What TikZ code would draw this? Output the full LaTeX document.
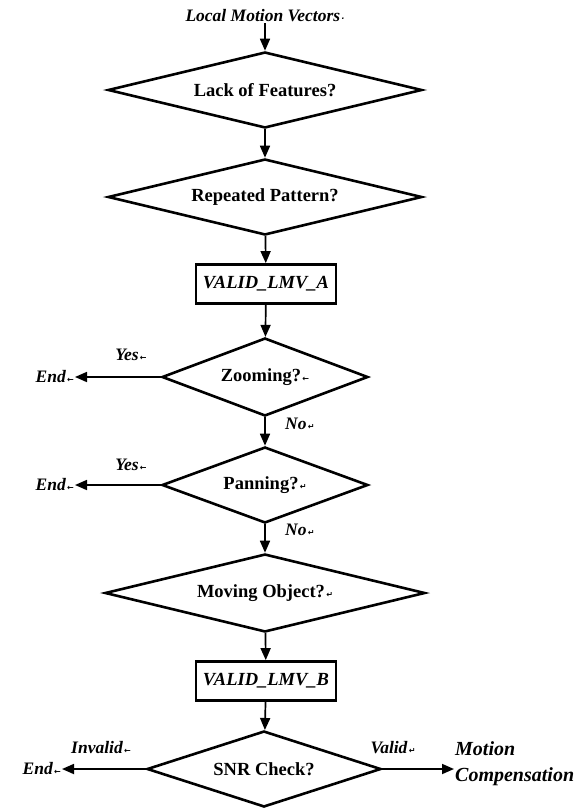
\documentclass[tikz,border=0pt]{standalone}
\usepackage{fontspec}
\setmainfont{Liberation Serif}
\newfontfamily\markfont{DejaVu Sans}
\usetikzlibrary{shapes.geometric,arrows.meta}
\newcommand{\mk}[1]{{\markfont\fontsize{8}{8}\selectfont\,#1}}
\begin{document}
\begin{tikzpicture}[x=1pt,y=1pt,
  dec/.style n args={3}{diamond, draw, line width=2.6pt, inner sep=0pt,
    shape aspect=#3, minimum width=#1pt, minimum height=#2pt,
    font=\bfseries\fontsize{18.5}{20}\selectfont},
  procbox/.style={rectangle, draw, line width=2.8pt, minimum width=140pt,
    minimum height=39pt, font=\bfseries\itshape\fontsize{18.5}{20}\selectfont},
  lbl/.style={inner sep=1pt, font=\bfseries\itshape\fontsize{17.5}{26}\selectfont},
  arr/.style={line width=1.7pt, -{Triangle[length=12pt,width=10pt]}}]
\useasboundingbox (0,0) rectangle (588,-808);
\node[lbl] (title) at (265,-16) {Local Motion Vectors\mk{·}};
\node[dec={314}{76}{4.13}] (d1) at (265,-90) {Lack of Features?};
\node[dec={314}{76}{4.13}] (d2) at (265,-197) {Repeated Pattern?};
\node[procbox] (ba) at (266,-284) {VALID\_LMV\_A};
\node[dec={206}{78}{2.64}] (d3) at (265,-377) {Zooming?\mk{←}};
\node[dec={206}{76}{2.71}] (d4) at (265,-485) {Panning?\mk{↵}};
\node[dec={320}{78}{4.1}] (d5) at (265,-593) {Moving Object?\mk{↵}};
\node[procbox] (bb) at (266,-681) {VALID\_LMV\_B};
\node[dec={234}{76}{3.08}] (d6) at (264,-769) {SNR Check?};
% end nodes
\node[lbl, anchor=east] (e1) at (75,-377) {End\mk{←}};
\node[lbl, anchor=east] (e2) at (75,-485) {End\mk{←}};
\node[lbl, anchor=east] (e3) at (62,-769) {End\mk{←}};
\node[lbl, anchor=west, align=left, font=\bfseries\itshape\fontsize{20}{26}\selectfont] (mc) at (454,-764) {Motion\\Compensation};
% labels
\node[lbl] (y1) at (131,-355) {Yes\mk{←}};
\node[lbl] (y2) at (131,-465) {Yes\mk{←}};
\node[lbl, anchor=west] (n1) at (284,-424) {No\mk{↵}};
\node[lbl, anchor=west] (n2) at (284,-530) {No\mk{↵}};
\node[lbl] (inv) at (101,-748) {Invalid\mk{←}};
\node[lbl] (val) at (393,-748) {Valid\mk{↵}};
% connectors
\draw[arr] (title) -- (d1);
\draw[arr] (d1) -- (d2);
\draw[arr] (d2) -- (ba);
\draw[arr] (ba) -- (d3);
\draw[arr] (d3) -- (d4);
\draw[arr] (d4) -- (d5);
\draw[arr] (d5) -- (bb);
\draw[arr] (bb) -- (d6);
\draw[arr] (d3.west) -- (e1.east);
\draw[arr] (d4.west) -- (e2.east);
\draw[arr] (d6.west) -- (e3.east);
\draw[arr] (d6.east) -- (d6.east -| mc.west);
\end{tikzpicture}
\end{document}
